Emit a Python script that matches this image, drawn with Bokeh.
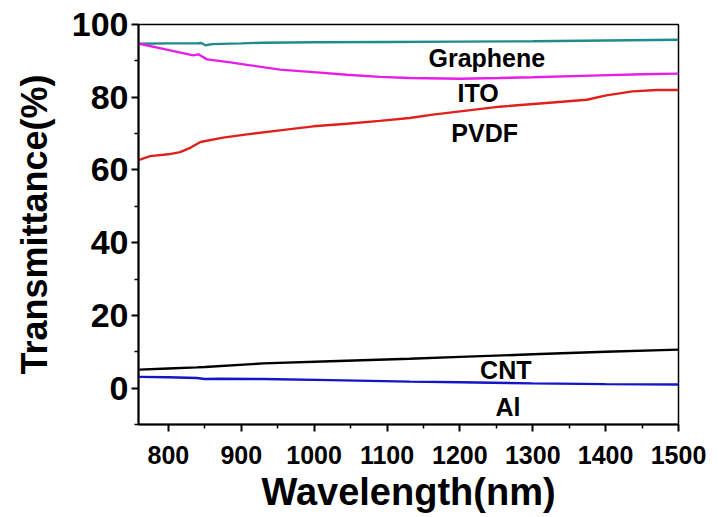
from bokeh.plotting import figure
from bokeh.embed import file_html
from bokeh.resources import INLINE
from bokeh.models import Range1d, FixedTicker
from bokeh.core.properties import value

# ---- data ----
graphene_wl = [760, 800, 839, 845, 851, 860, 900, 930, 1000, 1100, 1200, 1300, 1400, 1500]
graphene_t = [94.7, 94.8, 94.8, 94.9, 94.3, 94.6, 94.8, 95.0, 95.1, 95.2, 95.3, 95.4, 95.6, 95.8]

ito_wl = [760, 793, 834, 841, 853, 885, 908, 953, 999, 1045, 1090, 1131, 1200, 1255, 1300, 1392, 1450, 1500]
ito_t = [94.7, 93.3, 91.5, 91.8, 90.4, 89.6, 88.9, 87.6, 86.9, 86.2, 85.6, 85.3, 85.1, 85.3, 85.5, 86.0, 86.3, 86.5]

pvdf_wl = [760, 775, 800, 816, 830, 844, 875, 908, 953, 999, 1045, 1090, 1131, 1163, 1255, 1323, 1374, 1401, 1437, 1470, 1500]
pvdf_t = [62.8, 63.8, 64.3, 64.9, 66.1, 67.7, 68.9, 69.8, 70.9, 72.0, 72.7, 73.5, 74.3, 75.2, 77.4, 78.5, 79.3, 80.5, 81.6, 82.0, 82.0]

cnt_wl = [760, 800, 839, 850, 930, 1022, 1131, 1200, 1300, 1400, 1500]
cnt_t = [5.1, 5.4, 5.7, 5.8, 6.8, 7.4, 8.1, 8.6, 9.3, 10.0, 10.6]

al_wl = [760, 800, 839, 850, 870, 930, 1022, 1131, 1200, 1300, 1400, 1500]
al_t = [3.1, 3.0, 2.8, 2.5, 2.6, 2.5, 2.2, 1.8, 1.6, 1.3, 1.1, 1.0]

label_names = ["Graphene", "ITO", "PVDF", "CNT", "Al"]
label_x = [1237, 1225, 1234, 1263, 1266]
label_y = [90.7, 81.3, 70.3, 4.9, -5.2]

x_ticks = [800, 900, 1000, 1100, 1200, 1300, 1400, 1500]
y_ticks = [0, 20, 40, 60, 80, 100]

FONT = "Liberation Sans"

p = figure(width=718, height=517, output_backend="svg", toolbar_location=None,
           x_range=Range1d(759, 1500), y_range=Range1d(-10, 100),
           min_border_left=138, min_border_right=40, min_border_top=24, min_border_bottom=93)
p.background_fill_color = "white"
p.border_fill_color = "white"
p.outline_line_color = "black"
p.outline_line_width = 1.5
p.xgrid.visible = False
p.ygrid.visible = False

series = [
    (graphene_wl, graphene_t, "#1f8c8c"),
    (ito_wl, ito_t, "#e61ee6"),
    (pvdf_wl, pvdf_t, "#e0201a"),
    (cnt_wl, cnt_t, "#000000"),
    (al_wl, al_t, "#1414c8"),
]
for xs, ys, c in series:
    p.line(xs, ys, line_color=c, line_width=2.4)

p.text(x=label_x, y=label_y, text=label_names, text_font=value(FONT),
       text_font_style="bold", text_font_size="25px", text_align="center",
       text_baseline="middle", text_color="black")

for ax in (p.xaxis[0], p.yaxis[0]):
    ax.axis_line_color = "black"
    ax.axis_line_width = 2
    ax.major_tick_line_width = 2
    ax.minor_tick_line_width = 1.5
    ax.major_tick_out = 7
    ax.major_tick_in = 0
    ax.minor_tick_out = 4
    ax.minor_tick_in = 0
    ax.major_label_text_font = FONT
    ax.major_label_text_font_style = "bold"
    ax.major_label_text_color = "black"
    ax.axis_label_text_font = FONT
    ax.axis_label_text_font_style = "bold"
    ax.axis_label_text_color = "black"

p.xaxis.ticker = FixedTicker(ticks=x_ticks, minor_ticks=[850, 950, 1050, 1150, 1250, 1350, 1450])
p.yaxis.ticker = FixedTicker(ticks=y_ticks, minor_ticks=[-10, 10, 30, 50, 70, 90])
p.xaxis.major_label_text_font_size = "25px"
p.yaxis.major_label_text_font_size = "34px"
p.xaxis.major_label_standoff = 14
p.yaxis.major_label_standoff = 3
p.xaxis.axis_label = "Wavelength(nm)"
p.yaxis.axis_label = "Transmittance(%)"
p.xaxis.axis_label_text_font_size = "38px"
p.yaxis.axis_label_text_font_size = "36px"
p.xaxis.axis_label_standoff = 4
p.yaxis.axis_label_standoff = 14

open("out.html", "w").write(file_html(p, INLINE))
